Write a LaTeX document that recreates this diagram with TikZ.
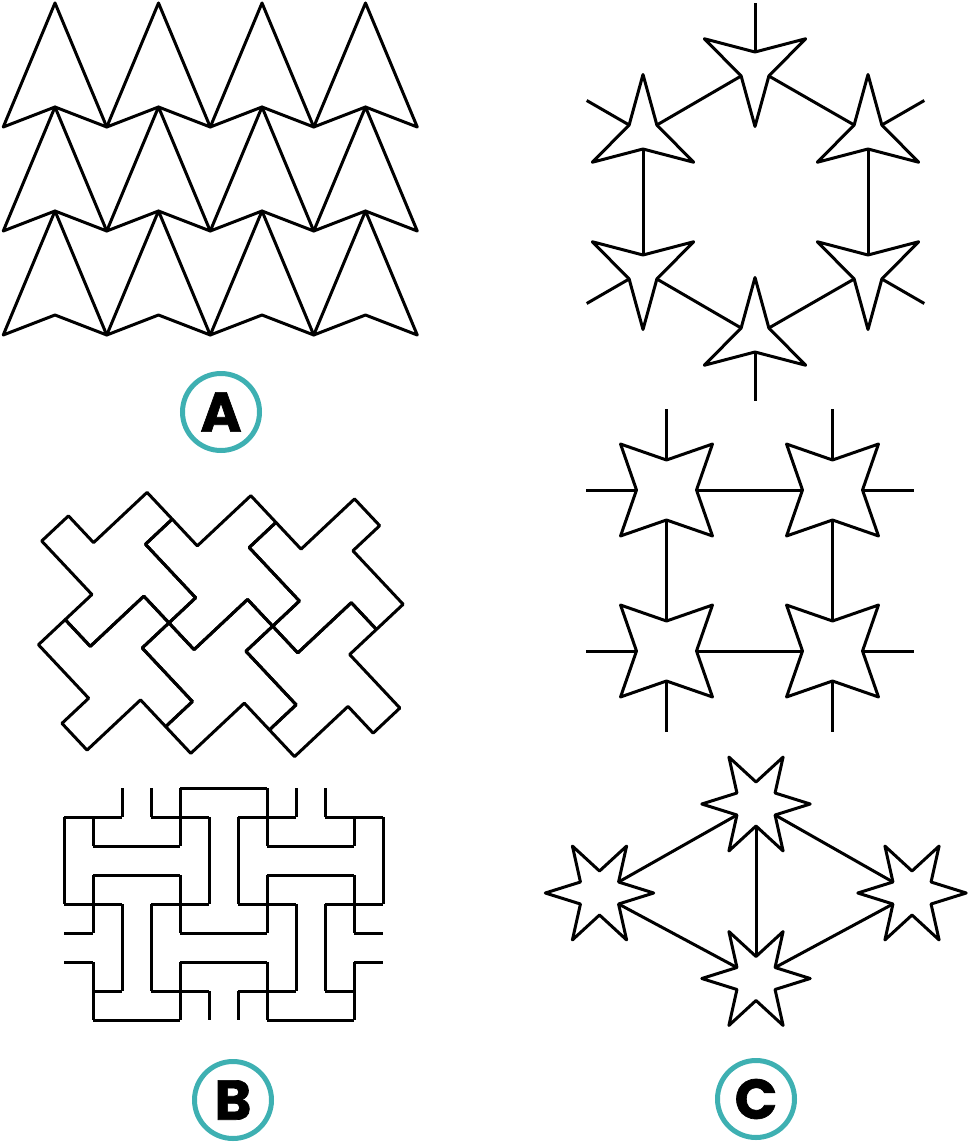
\documentclass[tikz,border=0pt]{standalone}
\usepackage{fontspec}
\newfontfamily\labfont{Poppins}[BoldFeatures={FakeBold=1.2}]
\definecolor{ringteal}{RGB}{62,176,178}
\tikzset{
  ln/.style={line width=3pt,line join=round},
  tag/.style={circle,draw=ringteal,line width=5pt,minimum size=77pt,inner sep=0pt,
    font=\labfont\bfseries\fontsize{56}{56}\selectfont},
  tristar/.pic={
    \draw[ln] (#1:58.5) -- ({#1+60}:16) -- ({#1+120}:58.5) -- ({#1+180}:16)
      -- ({#1+240}:58.5) -- ({#1+300}:16) -- cycle;
    \coordinate (-i1) at ({#1+60}:16);
    \coordinate (-i2) at ({#1+180}:16);
    \coordinate (-i3) at ({#1+300}:16);
    \coordinate (-f1) at ({#1+60}:65);
    \coordinate (-f2) at ({#1+180}:65);
    \coordinate (-f3) at ({#1+300}:65);
  },
  quadstar/.pic={
    \draw[ln] (0:30) -- (45:65) -- (90:30) -- (135:65) -- (180:30) -- (225:65)
      -- (270:30) -- (315:65) -- cycle;
    \coordinate (-e) at (0:30);   \coordinate (-fe) at (0:81);
    \coordinate (-s) at (90:30);  \coordinate (-fs) at (90:81);
    \coordinate (-w) at (180:30); \coordinate (-fw) at (180:81);
    \coordinate (-n) at (270:30); \coordinate (-fn) at (270:81);
  },
  hexstar/.pic={
    \draw[ln] (0:54.2) -- (30:22) -- (60:54.2) -- (90:22) -- (120:54.2) -- (150:22)
      -- (180:54.2) -- (210:22) -- (240:54.2) -- (270:22) -- (300:54.2) -- (330:22) -- cycle;
    \foreach \k in {30,90,150,210,270,330} { \coordinate (-a\k) at (\k:22); }
  }
}
\begin{document}
\begin{tikzpicture}[x=1pt,y=-1pt]
\useasboundingbox (0,0) rectangle (969,1148);

% ---------- Panel A: arrowhead tiling ----------
\foreach \r in {0,1,2} {
  \foreach \c in {0,1,2,3} {
    \pgfmathsetmacro\cx{55+103.5*\c}
    \pgfmathsetmacro\ty{3+104*\r}
    \draw[ln] (\cx,\ty) -- (\cx+51.75,\ty+124) -- (\cx,\ty+104) -- (\cx-51.75,\ty+124) -- cycle;
  }
}
\node[tag] (la) at (221,412) {A};

% ---------- Panel B: pinwheel tiling ----------
\begin{scope}[shift={(41.7,541)}]
\begin{scope}[x={(26.75pt,25.12pt)},y={(25.12pt,-26.75pt)}]
\foreach \a/\b in {0/0,2/2,4/4,-2/2,0/4,2/6}
  \draw[ln,shift={(\a,\b)}] (0,0) -- (1,0) -- (1,1) -- (3,1) -- (3,2) -- (2,2) -- (2,4)
    -- (1,4) -- (1,3) -- (-1,3) -- (-1,2) -- (0,2) -- cycle;
\end{scope}
\end{scope}

% ---------- Panel B: I-shape maze ----------
\begin{scope}[shift={(64,788)}]
\begin{scope}[x=29pt,y=-29pt]
\foreach \j/\a/\b in {0/4/7, 1/0/2, 1/3/5, 1/6/8, 1/9/11, 2/1/4, 2/7/10, 3/1/4, 3/7/10,
   4/0/2, 4/3/5, 4/6/8, 4/9/11, 5/0/1, 5/4/7, 5/10/11, 6/0/1, 6/4/7, 6/10/11,
   7/1/2, 7/3/5, 7/6/8, 7/9/10, 8/1/4, 8/7/10}
  \draw[ln,line cap=square] (\a,\j) -- (\b,\j);
\foreach \i/\a/\b in {0/1/4, 1/1/2, 1/3/5, 1/6/8, 2/0/1, 2/4/7, 3/0/1, 3/4/7,
   4/0/2, 4/3/5, 4/6/8, 5/1/4, 5/7/8, 6/1/4, 6/7/8, 7/0/2, 7/3/5, 7/6/8,
   8/0/1, 8/4/7, 9/0/1, 9/4/7, 10/1/2, 10/3/5, 10/6/8, 11/1/4}
  \draw[ln,line cap=square] (\i,\a) -- (\i,\b);
\end{scope}
\end{scope}
\node[tag] (lb) at (233,1100) {B};

% ---------- Panel C: hexagon of three-pointed stars ----------
\pic (ta) at (755,68) {tristar=90};
\pic (tb) at (643,133) {tristar=270};
\pic (tc) at (868,133) {tristar=270};
\pic (td) at (643,271) {tristar=90};
\pic (te) at (868,271) {tristar=90};
\pic (tf) at (755,336) {tristar=270};
\draw[ln] (ta-i1) -- (tb-i1);
\draw[ln] (ta-i3) -- (tc-i3);
\draw[ln] (ta-i2) -- (ta-f2);
\draw[ln] (tb-i2) -- (td-i2);
\draw[ln] (tb-i3) -- (tb-f3);
\draw[ln] (tc-i1) -- (tc-f1);
\draw[ln] (tc-i2) -- (te-i2);
\draw[ln] (td-i1) -- (td-f1);
\draw[ln] (td-i3) -- (tf-i3);
\draw[ln] (te-i3) -- (te-f3);
\draw[ln] (te-i1) -- (tf-i1);
\draw[ln] (tf-i2) -- (tf-f2);

% ---------- Panel C: square of four-pointed stars ----------
\pic (qa) at (666.5,490) {quadstar};
\pic (qb) at (832.5,490) {quadstar};
\pic (qc) at (666.5,651) {quadstar};
\pic (qd) at (832.5,651) {quadstar};
\draw[ln] (qa-e) -- (qb-w);
\draw[ln] (qc-e) -- (qd-w);
\draw[ln] (qa-s) -- (qc-n);
\draw[ln] (qb-s) -- (qd-n);
\draw[ln] (qa-n) -- (qa-fn);
\draw[ln] (qa-w) -- (qa-fw);
\draw[ln] (qb-n) -- (qb-fn);
\draw[ln] (qb-e) -- (qb-fe);
\draw[ln] (qc-w) -- (qc-fw);
\draw[ln] (qc-s) -- (qc-fs);
\draw[ln] (qd-e) -- (qd-fe);
\draw[ln] (qd-s) -- (qd-fs);

% ---------- Panel C: rhombus of six-pointed stars ----------
\pic (ha) at (756,804) {hexstar};
\pic (hb) at (599.5,893) {hexstar};
\pic (hc) at (912,893) {hexstar};
\pic (hd) at (756,978.5) {hexstar};
\draw[ln] (ha-a150) -- (hb-a330);
\draw[ln] (ha-a30) -- (hc-a210);
\draw[ln] (hb-a30) -- (hd-a210);
\draw[ln] (hc-a150) -- (hd-a330);
\draw[ln] (ha-a90) -- (hd-a270);

\node[tag] (lc) at (756,1099) {C};
\end{tikzpicture}
\end{document}
